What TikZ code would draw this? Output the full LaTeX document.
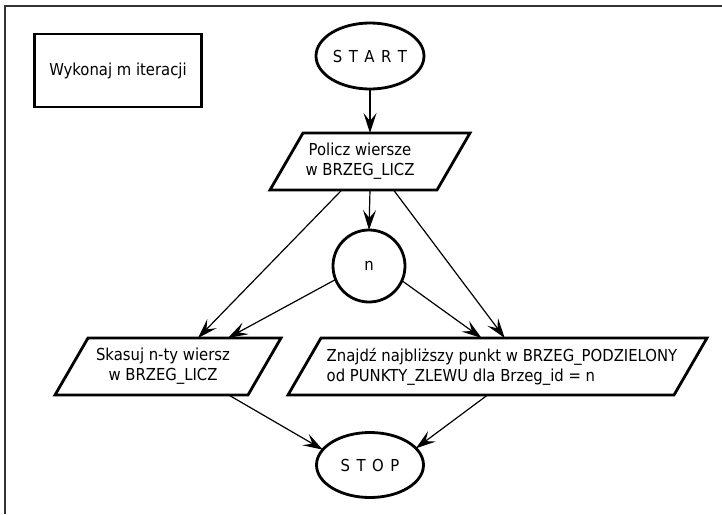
\documentclass[tikz,border=0pt]{standalone}
\usepackage{fontspec}
\setmainfont{DejaVu Sans Condensed}
\usetikzlibrary{shapes.geometric,arrows.meta,calc}
\begin{document}
\begin{tikzpicture}[x=1pt,y=-1pt,
  every node/.style={font=\fontsize{16.5}{20}\selectfont},
  shp/.style={draw=black,line width=2.8pt,inner sep=0pt,outer sep=0pt},
  term/.style={shp,ellipse},
  para/.style={draw=black,line width=2.8pt,line join=miter},
  txt/.style={inner sep=0pt,align=center},
  note/.style={shp,rectangle},
  conn/.style={draw=black,line width=1.2pt,-{Stealth[length=20pt,width=13pt,inset=8pt]}},
  frame/.style={draw=black!80,line width=2pt}]
\useasboundingbox (0,0) rectangle (722,514);
\draw[frame] (5,514) -- (5,6) -- (722,6);

% parallelogram corners
\coordinate (pol-bl) at (270,190); \coordinate (pol-br) at (437,190);
\coordinate (pol-tr) at (470,133); \coordinate (pol-tl) at (303,133);
\coordinate (skas-bl) at (55,395); \coordinate (skas-br) at (248,395);
\coordinate (skas-tr) at (281,338); \coordinate (skas-tl) at (88,338);
\coordinate (znaj-bl) at (288,395); \coordinate (znaj-br) at (674,395);
\coordinate (znaj-tr) at (707,338); \coordinate (znaj-tl) at (321,338);
\draw[para] (pol-bl) -- (pol-br) -- (pol-tr) -- (pol-tl) -- cycle;
\draw[para] (skas-bl) -- (skas-br) -- (skas-tr) -- (skas-tl) -- cycle;
\draw[para] (znaj-bl) -- (znaj-br) -- (znaj-tr) -- (znaj-tl) -- cycle;

\node[note,minimum width=167pt,minimum height=73pt] (note) at (118,70.5) {Wykonaj m iteracji};
\node[term,minimum width=108pt,minimum height=66pt] (start) at (370,56) {S\hspace{6.5pt}T\hspace{6.5pt}A\hspace{6.5pt}R\hspace{6.5pt}T};
\node[txt] (pol) at (360,161.5) {Policz wiersze\\w BRZEG\_LICZ};
\node[term,circle,minimum size=72pt] (n) at (369,266) {n};
\node[txt] (skas) at (163,366.5) {Skasuj n-ty wiersz\\w BRZEG\_LICZ};
\node[txt,align=left] (znaj) at (502,366.5) {Znajdź najbliższy punkt w BRZEG\_PODZIELONY\\od PUNKTY\_ZLEWU dla Brzeg\_id = n};
\node[term,minimum width=107pt,minimum height=65pt] (stop) at (370,465) {S\hspace{6.5pt}T\hspace{6.5pt}O\hspace{6.5pt}P};

\draw[conn] (start.south) -- (start.south |- pol-tl);
\draw[conn] (start.south |- pol-bl) -- (n.north);
\draw[conn] ($(pol-bl)!0.43!(pol-br)$) -- ($(skas-tl)!0.57!(skas-tr)$);
\draw[conn] (n.202) -- ($(skas-tl)!0.725!(skas-tr)$);
\draw[conn] (n.336) -- ($(znaj-tl)!0.416!(znaj-tr)$);
\draw[conn] ($(pol-bl)!0.74!(pol-br)$) -- ($(znaj-tl)!0.476!(znaj-tr)$);
\draw[conn] ($(skas-bl)!0.9!(skas-br)$) -- (stop.162);
\draw[conn] ($(znaj-bl)!0.517!(znaj-br)$) -- (stop.20);
\end{tikzpicture}
\end{document}
